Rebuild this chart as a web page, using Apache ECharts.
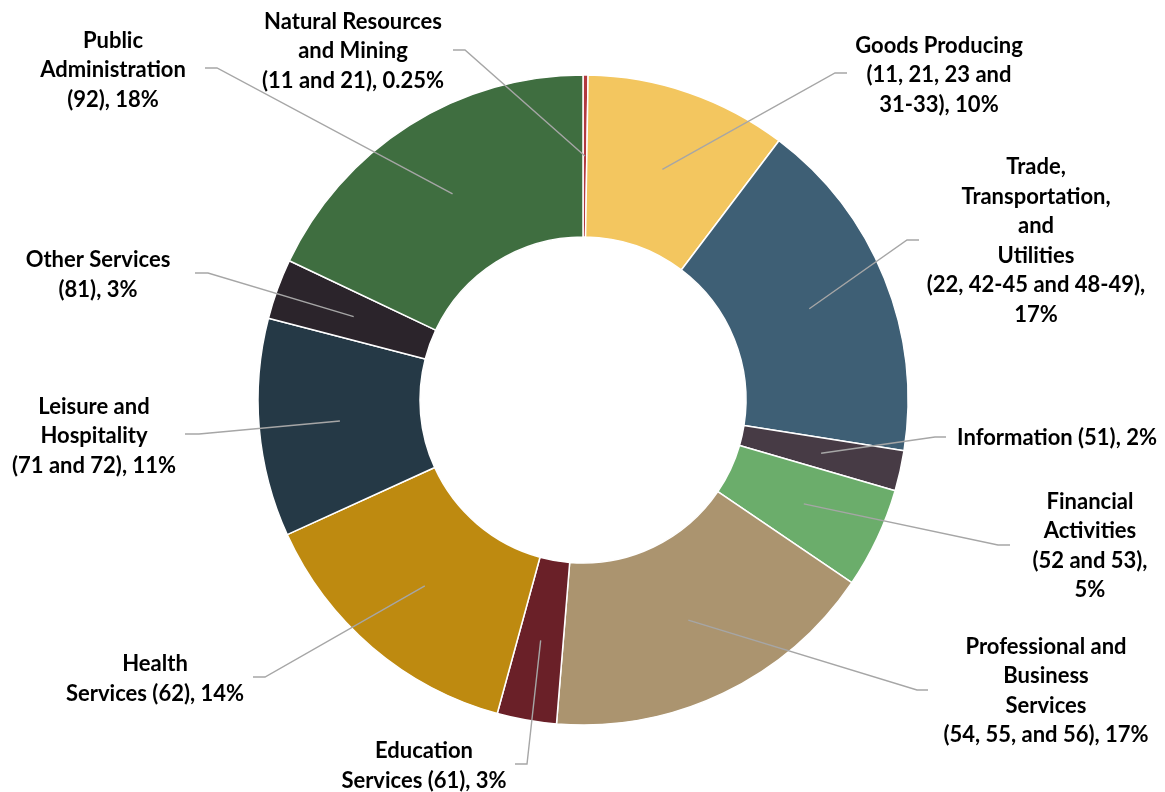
<!DOCTYPE html>
<html>
<head>
<meta charset="utf-8">
<script src="https://cdn.jsdelivr.net/npm/echarts@6/dist/echarts.min.js"></script>
<style>
  html, body { margin: 0; padding: 0; background: #ffffff; }
  #chart { width: 1165px; height: 792px; }
</style>
</head>
<body>
<div id="chart"></div>
<script>
// ---- data ----
const categories = [
  'Natural Resources and Mining (11 and 21)',
  'Goods Producing (11, 21, 23 and 31-33)',
  'Trade, Transportation, and Utilities (22, 42-45 and 48-49)',
  'Information (51)',
  'Financial Activities (52 and 53)',
  'Professional and Business Services (54, 55, and 56)',
  'Education Services (61)',
  'Health Services (62)',
  'Leisure and Hospitality (71 and 72)',
  'Other Services (81)',
  'Public Administration (92)'
];
// shares (%)
const shares = [0.25, 10.05, 17.2, 2.0, 5.0, 16.8, 2.95, 13.95, 10.85, 3.0, 17.95];
const labelTexts = [
  'Natural Resources\nand Mining\n(11 and 21), {v}',
  'Goods Producing\n(11, 21, 23 and\n31-33), {v}',
  'Trade,\nTransportation,\nand\nUtilities\n(22, 42-45 and 48-49),\n{v}',
  'Information (51), {v}',
  'Financial\nActivities\n(52 and 53),\n{v}',
  'Professional and\nBusiness\nServices\n(54, 55, and 56), {v}',
  'Education\nServices (61), {v}',
  'Health\nServices (62), {v}',
  'Leisure and\nHospitality\n(71 and 72), {v}',
  'Other Services\n(81), {v}',
  'Public\nAdministration\n(92), {v}'
];
const colors = ['#B2393F', '#F3C65F', '#3E5F75', '#473B45', '#6BAD6B', '#AB946F',
                '#6A2028', '#BE8A10', '#253946', '#2B242B', '#3F6E40'];

// ---- layout (label placement: [centerX, centerY, lineEndX, lineEndY, elbowDX]) ----
const labelPlace = [
  [353, 51, 453, 50, 12],
  [939, 75, 847, 73, -12],
  [1036, 241, 919, 240, -12],
  [1057, 438, 946, 437, -11],
  [1090, 546, 1010, 545, -12],
  [1046, 691, 928, 690, -11],
  [424, 766, 515, 764, 12],
  [155, 679, 253, 677, 12],
  [94, 436, 185, 434, 14],
  [98, 275, 195, 273, 13],
  [113, 70, 205, 68, 12]
];

function fmtPct(v) {
  return (v < 1 ? v : Math.round(v)) + '%';
}

const pieData = categories.map((c, i) => ({ name: c, value: shares[i], itemStyle: { color: colors[i] } }));
const ghostData = categories.map((c, i) => ({ name: c, value: shares[i] }));

const chart = echarts.init(document.getElementById('chart'), null, { renderer: 'canvas' });
chart.setOption({
  backgroundColor: '#ffffff',
  animation: false,
  series: [
    {
      type: 'pie',
      z: 2,
      center: [583, 400],
      radius: [163, 325],
      startAngle: 90,
      clockwise: true,
      silent: true,
      avoidLabelOverlap: false,
      label: { show: false },
      labelLine: { show: false },
      itemStyle: { borderColor: '#ffffff', borderWidth: 1.5 },
      data: pieData
    },
    {
      type: 'pie',
      z: 5,
      center: [583, 400],
      radius: [0, 244],
      startAngle: 90,
      clockwise: true,
      silent: true,
      avoidLabelOverlap: false,
      itemStyle: { color: 'rgba(0,0,0,0)', borderWidth: 0 },
      label: {
        show: true,
        position: 'outside',
        color: '#000000',
        fontFamily: 'Lato, "Noto Sans", sans-serif',
        fontWeight: 'bold',
        fontSize: 22,
        lineHeight: 29.5,
        align: 'center',
        formatter: (p) => labelTexts[p.dataIndex].replace('{v}', fmtPct(p.value))
      },
      labelLine: {
        show: true,
        length: 10,
        length2: 10,
        lineStyle: { color: '#A6A6A6', width: 1.4 }
      },
      labelLayout: function (params) {
        const lp = labelPlace[params.dataIndex];
        const res = { x: lp[0], y: lp[1], align: 'center', verticalAlign: 'middle' };
        const pts = params.labelLinePoints;
        if (pts) {
          res.labelLinePoints = [
            [pts[0][0], pts[0][1]],
            [lp[2] + lp[4], lp[3]],
            [lp[2], lp[3]]
          ];
        }
        return res;
      },
      data: ghostData
    }
  ]
});
</script>
</body>
</html>
